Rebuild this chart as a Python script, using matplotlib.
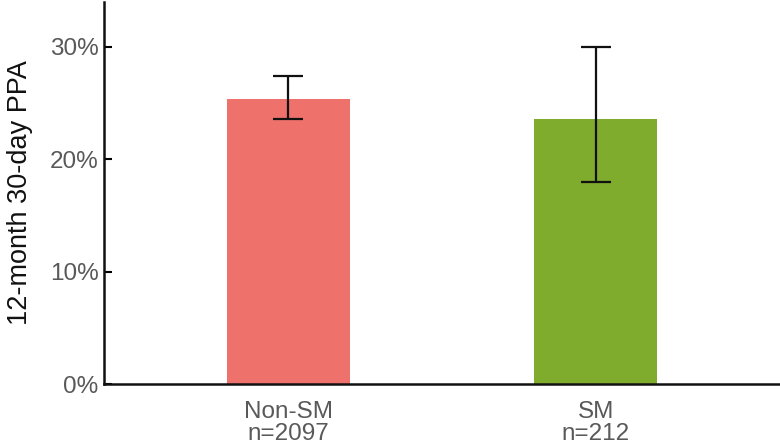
import numpy as np
import matplotlib.pyplot as plt
from matplotlib.ticker import PercentFormatter

# data
groups = ["Non-SM\nn=2097", "SM\nn=212"]
ppa = [25.4, 23.6]
ci_low = [23.6, 18.0]
ci_high = [27.4, 30.0]
colors = ["#EE716C", "#80AC2D"]

plt.rcParams['font.family'] = ['Liberation Sans', 'DejaVu Sans']

fig = plt.figure(figsize=(7.8, 4.48), dpi=100)
ax = fig.add_axes([104/780, 64/448, 676/780, 382/448])

x = np.array([1, 2])
ppa_arr = np.array(ppa)
yerr = np.vstack([ppa_arr - np.array(ci_low), np.array(ci_high) - ppa_arr])
ax.bar(x, ppa, width=0.4, color=colors)
ax.errorbar(x, ppa, yerr=yerr, fmt='none', ecolor='#111111', elinewidth=1.6,
            capsize=11, capthick=1.6)

ax.set_xlim(0.4, 2.6)
ax.set_ylim(0, 34)
ax.set_yticks([0, 10, 20, 30])
ax.yaxis.set_major_formatter(PercentFormatter(decimals=0))
ax.set_xticks(x)
ax.set_xticklabels(groups, fontsize=17.5, color='#595959', linespacing=1.0)
ax.tick_params(axis='x', length=0, pad=12)
ax.tick_params(axis='y', direction='in', labelsize=17.5, labelcolor='#595959',
               length=6, width=1.5, pad=4)
ax.set_ylabel("12-month 30-day PPA", fontsize=19.5, color='#111111', labelpad=12)

for s in ['top', 'right']:
    ax.spines[s].set_visible(False)
for s in ['left', 'bottom']:
    ax.spines[s].set_linewidth(1.8)
    ax.spines[s].set_color('#111111')

fig.savefig("out.png", dpi=100)
